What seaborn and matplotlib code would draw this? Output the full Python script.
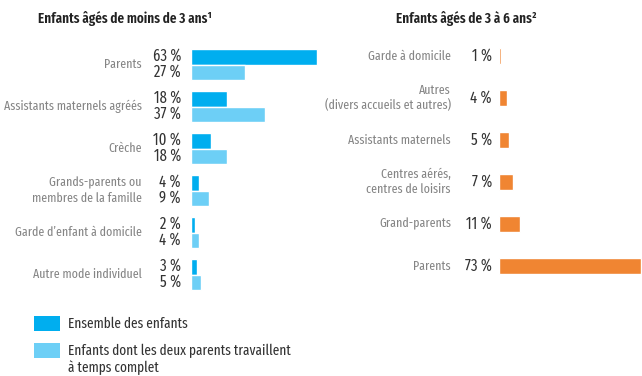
import matplotlib
matplotlib.use("Agg")
import matplotlib.pyplot as plt
from matplotlib.patches import Rectangle
import seaborn as sns
import pandas as pd

# Under-3s: childcare modes, two populations
modes_under3 = [
    "Parents",
    "Assistants maternels agréés",
    "Crèche",
    "Grands-parents ou\nmembres de la famille",
    "Garde d\u2019enfant à domicile",
    "Autre mode individuel",
]
all_children = [63, 18, 10, 4, 2, 3]
both_parents_fulltime = [27, 37, 18, 9, 4, 5]
series_names = ["Ensemble des enfants",
                "Enfants dont les deux parents travaillent\nà temps complet"]

# 3 to 6 year olds
modes_3to6 = [
    "Garde à domicile",
    "Autres\n(divers accueils et autres)",
    "Assistants maternels",
    "Centres aérés,\ncentres de loisirs",
    "Grand-parents",
    "Parents",
]
share_3to6 = [1, 4, 5, 7, 11, 73]

title_left = "Enfants âgés de moins de 3 ans\u00b9"
title_right = "Enfants âgés de 3 à 6 ans\u00b2"

DARK = "#00AEEF"
LIGHT = "#6DCFF6"
ORANGE = "#F08532"
GREY = "#858585"
INK = "#333333"

sns.set_theme(style="white")
FONT = ["Fira Sans Extra Condensed", "DejaVu Sans"]
plt.rcParams["font.family"] = FONT

cat_kw = dict(fontsize=9.3, fontweight=400, color=GREY, linespacing=1.3)
val_kw = dict(fontsize=11.5, fontweight=400, color=INK)
title_kw = dict(fontsize=10.3, fontweight=600, color="#222222")
legend_kw = dict(fontsize=10.4, fontweight=400, color=INK)

W, H = 642, 376
fig = plt.figure(figsize=(W / 100, H / 100), dpi=100)


def px_axes(x0, top, w, h):
    return fig.add_axes([x0 / W, 1 - (top + h) / H, w / W, h / H])


# ---- left panel ----
df_left = pd.DataFrame({
    "mode": modes_under3 * 2,
    "value": all_children + both_parents_fulltime,
    "series": [series_names[0]] * 6 + [series_names[1]] * 6,
})
axl = px_axes(191, 43.5, 130, 252)
sns.barplot(data=df_left, y="mode", x="value", hue="series", orient="h",
            palette=[DARK, LIGHT], width=0.76, saturation=1, legend=False,
            ax=axl, order=modes_under3, hue_order=series_names)
axl.set_xlim(0, 65)
axl.set_ylim(5.5, -0.5)
axl.set_axis_off()

for i, (mode, a, b) in enumerate(zip(modes_under3, all_children, both_parents_fulltime)):
    axl.text(-24.5, i, mode, ha="right", va="center", clip_on=False, **cat_kw)
    axl.text(-5, i - 0.19, f"{a} %", ha="right", va="center", clip_on=False, **val_kw)
    axl.text(-5, i + 0.19, f"{b} %", ha="right", va="center", clip_on=False, **val_kw)

fig.text(125 / W, 1 - 19 / H, title_left, ha="center", va="center", **title_kw)

# ---- right panel ----
df_right = pd.DataFrame({"mode": modes_3to6, "value": share_3to6})
axr = px_axes(499, 35, 143, 252)
sns.barplot(data=df_right, y="mode", x="value", orient="h", color=ORANGE,
            width=0.38, saturation=1, ax=axr, order=modes_3to6)
axr.set_xlim(0, 143 / 1.95)
axr.set_ylim(5.5, -0.5)
axr.set_axis_off()

px_per = 1.95
for i, (mode, v) in enumerate(zip(modes_3to6, share_3to6)):
    axr.text(-48 / px_per, i, mode, ha="right", va="center", clip_on=False, **cat_kw)
    axr.text(-7 / px_per, i, f"{v} %", ha="right", va="center", clip_on=False, **val_kw)

fig.text(466 / W, 1 - 19 / H, title_right, ha="center", va="center", **title_kw)

# ---- legend ----
for top, color, label in [(316, DARK, series_names[0]), (343, LIGHT, series_names[1])]:
    fig.add_artist(Rectangle((34 / W, 1 - (top + 15) / H), 26 / W, 15 / H,
                             transform=fig.transFigure, facecolor=color,
                             edgecolor="none"))
    first, *rest = label.split("\n")
    fig.text(68 / W, 1 - (top + 7.5) / H, first, ha="left", va="center", **legend_kw)
    if rest:
        fig.text(68 / W, 1 - (top + 24.5) / H, rest[0], ha="left", va="center", **legend_kw)

fig.savefig("out.png", dpi=100, facecolor="white")
